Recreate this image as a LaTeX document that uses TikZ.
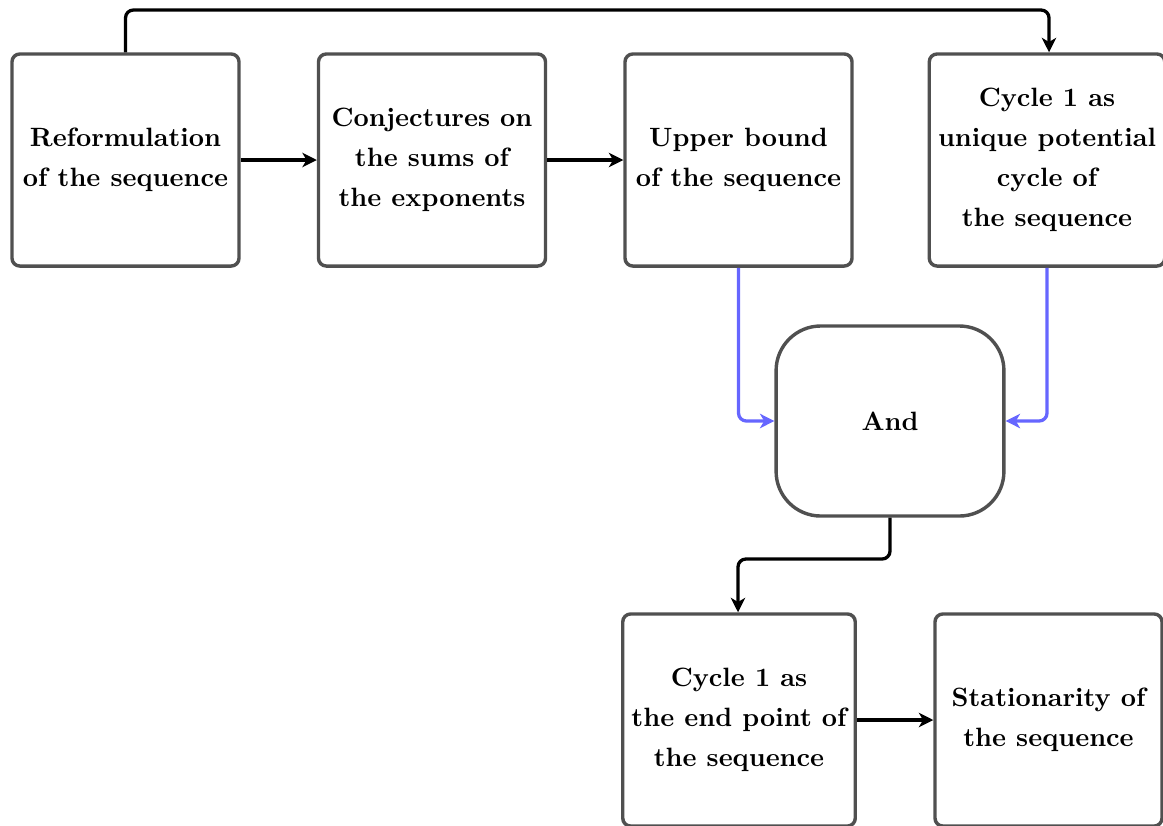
\documentclass[tikz,border=0pt]{standalone}
\usetikzlibrary{arrows.meta}
\definecolor{boxgray}{HTML}{505050}
\definecolor{linkblue}{HTML}{6666FF}
\tikzset{
  stagebox/.style={draw=boxgray, line width=1.3pt, rounded corners=3pt, fill=white,
    minimum width=86.5pt, minimum height=80.8pt, align=center,
    font=\fontsize{10.1}{15.24}\selectfont\bfseries, inner sep=3.33pt},
  andbox/.style={draw=boxgray, line width=1.3pt, rounded corners=17pt, fill=white,
    minimum width=86.8pt, minimum height=72.4pt, align=center,
    font=\fontsize{10.1}{15.24}\selectfont\bfseries},
  flow/.style={draw=black, line width=1.25pt, -{Stealth[length=5.5pt,width=5.5pt,inset=1.6pt]}, rounded corners=3pt},
  bluelink/.style={flow, draw=linkblue}
}
\begin{document}
\begin{tikzpicture}[x=0.381pt, y=-0.381pt]
\useasboundingbox (0,0) rectangle (1163,825);
\node[stagebox] (ref) at (125.5,160) {Reformulation\\of the sequence};
\node[stagebox] (conj) at (432,160) {Conjectures on\\the sums of\\the exponents};
\node[stagebox] (upper) at (738.5,160) {Upper bound\\of the sequence};
\node[stagebox] (cyc) at (1047,160) {Cycle 1 as\\unique potential\\cycle of\\the sequence};
\node[andbox] (and) at (890,421) {And};
\node[stagebox] (endp) at (739,720) {Cycle 1 as\\the end point of\\the sequence};
\node[stagebox] (stat) at (1048.5,720) {Stationarity of\\the sequence};
\coordinate (t1) at (125.5,10);
\coordinate (t2) at (1049,10);
\coordinate (m1) at (890,559);
\coordinate (m2) at (738,559);
\draw[flow] (ref) -- (conj);
\draw[flow] (conj) -- (upper);
\draw[flow] (ref.north) -- (t1) -- (t2) -- (t2 |- cyc.north);
\draw[bluelink] (upper.south) |- (and.west);
\draw[bluelink] (cyc.south) |- (and.east);
\draw[flow] (and.south) -- (m1) -- (m2) -- (m2 |- endp.north);
\draw[flow] (endp) -- (stat);
\end{tikzpicture}
\end{document}
